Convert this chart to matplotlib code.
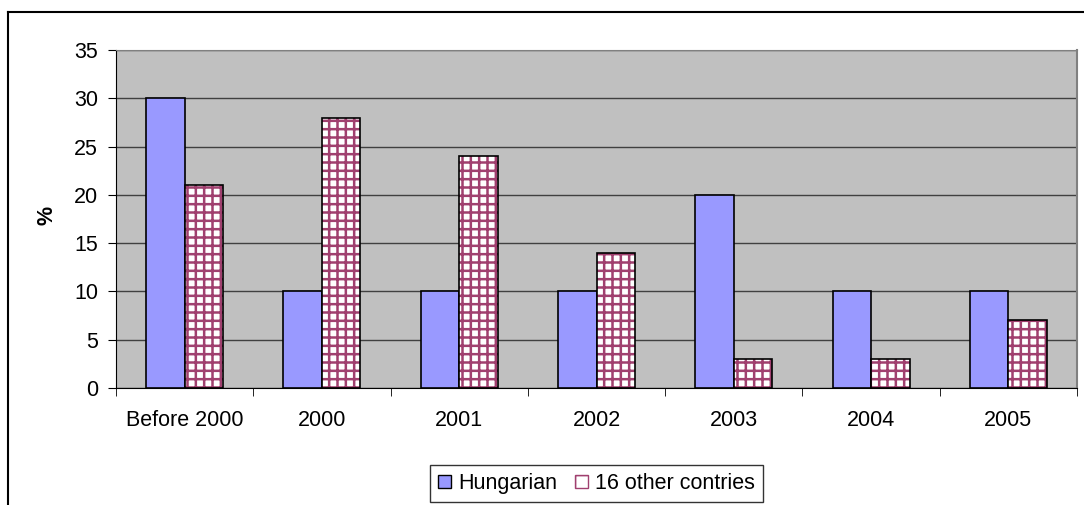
import numpy as np
import matplotlib
matplotlib.use("Agg")
import matplotlib.pyplot as plt
from matplotlib.lines import Line2D
from matplotlib.patches import Patch

categories = ["Before 2000", "2000", "2001", "2002", "2003", "2004", "2005"]
hungarian = [30, 10, 10, 10, 20, 10, 10]
other_countries = [21, 28, 24, 14, 3, 3, 7]
series_names = ["Hungarian", "16 other contries"]

plt.rcParams['font.family'] = ['Liberation Sans', 'DejaVu Sans']
plt.rcParams['hatch.linewidth'] = 1.8

hatch_col = '#A0406F'
fs = 15.5

fig = plt.figure(figsize=(10.84, 5.05), dpi=100)
ax = fig.add_axes([116 / 1084, 1 - 388 / 505, (1077 - 116) / 1084, (388 - 50) / 505])

x = np.arange(len(categories))
w = 0.28
ax.bar(x - w / 2, hungarian, w, color='#9999FF', edgecolor='black', linewidth=1.2,
       zorder=3)
# hatched fill, then black outline on top
ax.bar(x + w / 2, other_countries, w, color='white', edgecolor=hatch_col, linewidth=0,
       hatch='++', zorder=3)
ax.bar(x + w / 2, other_countries, w, fill=False, edgecolor='black', linewidth=1.2,
       zorder=4)

ax.set_facecolor('#C0C0C0')
ax.set_xlim(-0.5, len(categories) - 0.5)
ax.set_ylim(0, 35)
ax.set_yticks(range(0, 36, 5))
ax.yaxis.grid(True, color='#404040', linewidth=1.0, zorder=0)
ax.set_axisbelow(True)

ax.set_xticks(x)
ax.set_xticklabels(categories, fontsize=fs)
ax.set_xticks(np.arange(-0.5, len(categories), 1.0), minor=True)
ax.tick_params(axis='x', which='major', length=0, pad=16)
ax.tick_params(axis='x', which='minor', length=6, direction='out', color='black')
ax.tick_params(axis='y', length=6, direction='out', labelsize=fs, pad=7)

ax.spines['left'].set_color('black')
ax.spines['bottom'].set_color('black')
ax.spines['top'].set_color('#808080')
ax.spines['right'].set_color('#808080')
ax.spines['right'].set_linewidth(1.5)

ax.set_ylabel('%', fontsize=fs, fontweight='bold')
ax.yaxis.set_label_coords(-0.061, 0.51)

handles = [
    Patch(facecolor='#9999FF', edgecolor='black', linewidth=1.0),
    Patch(facecolor='white', edgecolor=hatch_col, hatch='+', linewidth=1.0),
]
leg = ax.legend(handles, series_names, loc='upper center', bbox_to_anchor=(0.5, -0.228),
                borderaxespad=0, ncol=2, fontsize=fs, frameon=True, fancybox=False,
                edgecolor='black', handlelength=0.6, handleheight=0.6,
                handletextpad=0.35, columnspacing=0.8, borderpad=0.38)
leg.get_frame().set_linewidth(1.0)

# outer chart frame
fig.add_artist(Line2D([8 / 1084, 8 / 1084], [0, 1 - 12 / 505], color='black',
                      linewidth=1.5, transform=fig.transFigure))
fig.add_artist(Line2D([8 / 1084, 1], [1 - 12 / 505, 1 - 12 / 505], color='black',
                      linewidth=1.5, transform=fig.transFigure))

fig.savefig('out.png', dpi=100)
